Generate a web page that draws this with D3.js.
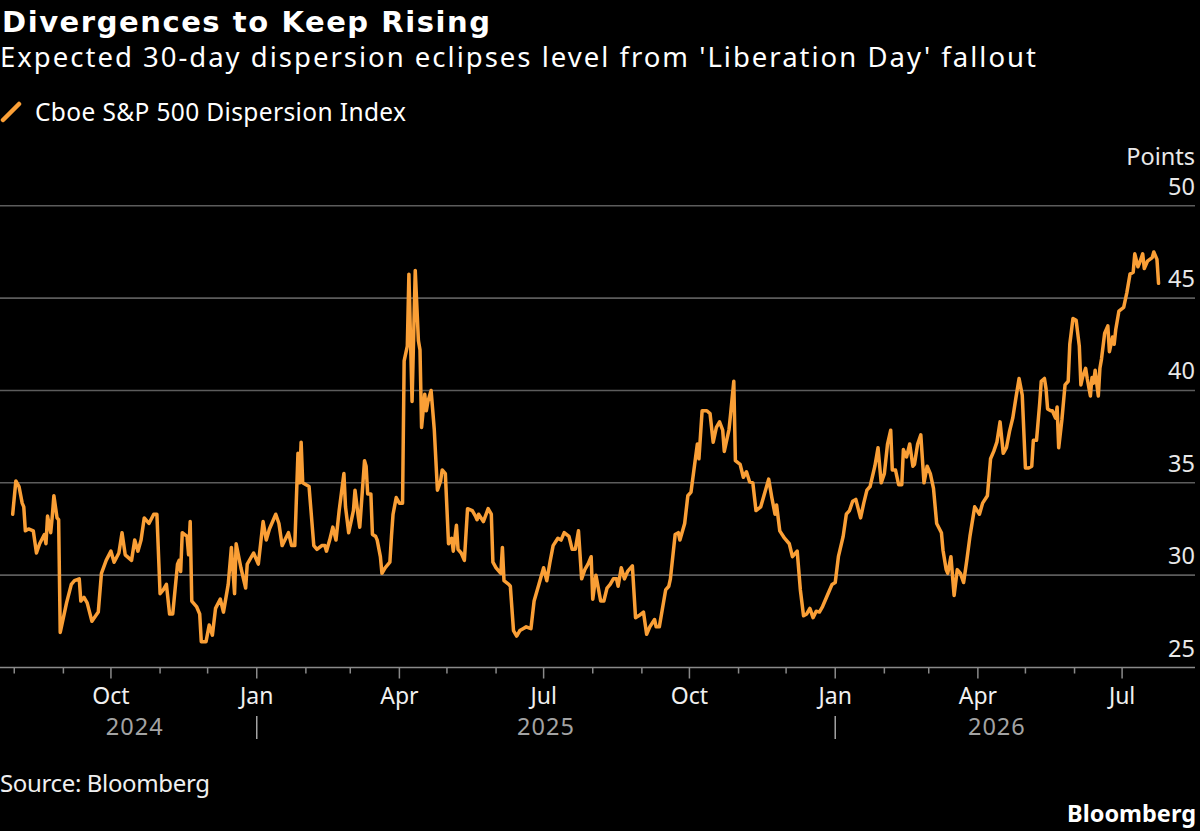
<!DOCTYPE html>
<html><head><meta charset="utf-8">
<script src="https://cdn.jsdelivr.net/npm/d3@7"></script>
<style>
body{margin:0;background:#000;}
svg{display:block;}
text{font-family:"Noto Sans","Open Sans",sans-serif;}
</style>
</head><body>
<svg id="chart" width="1200" height="831"></svg>
<script>
const title = "Divergences to Keep Rising";
const subtitle = "Expected 30-day dispersion eclipses level from 'Liberation Day' fallout";
const seriesName = "Cboe S&P 500 Dispersion Index";
const unitLabel = "Points";
const sourceText = "Source: Bloomberg";
const brand = "Bloomberg";
const yTickValues = [25, 30, 35, 40, 45, 50];
const xDomain = ["2024-07-23", "2026-08-16"];

const dispersion = [
["2024-07-31",33.3],["2024-08-02",35.1],["2024-08-04",34.8],["2024-08-06",33.9],["2024-08-07",33.7],
["2024-08-08",32.4],["2024-08-10",32.5],["2024-08-13",32.4],["2024-08-15",31.2],["2024-08-17",31.7],
["2024-08-20",32.2],["2024-08-21",31.7],["2024-08-22",33.2],["2024-08-24",32.3],["2024-08-25",33.2],
["2024-08-26",34.3],["2024-08-28",33.1],["2024-08-29",33.0],["2024-08-30",26.9],["2024-09-01",27.7],
["2024-09-03",28.5],["2024-09-06",29.5],["2024-09-08",29.7],["2024-09-11",29.8],["2024-09-12",28.6],
["2024-09-14",28.8],["2024-09-16",28.5],["2024-09-19",27.5],["2024-09-23",28.0],["2024-09-25",30.1],
["2024-09-28",30.8],["2024-10-01",31.3],["2024-10-03",30.7],["2024-10-06",31.2],["2024-10-08",32.3],
["2024-10-10",31.1],["2024-10-14",30.8],["2024-10-16",31.9],["2024-10-18",31.3],["2024-10-20",31.9],
["2024-10-22",33.1],["2024-10-25",32.8],["2024-10-28",33.3],["2024-10-30",33.3],["2024-11-01",29.0],
["2024-11-03",29.2],["2024-11-05",29.5],["2024-11-07",27.9],["2024-11-09",27.9],["2024-11-12",30.6],
["2024-11-13",30.8],["2024-11-14",30.2],["2024-11-15",32.3],["2024-11-18",32.1],["2024-11-19",31.1],
["2024-11-20",32.9],["2024-11-21",28.6],["2024-11-24",28.3],["2024-11-26",27.9],["2024-11-27",26.4],
["2024-11-30",26.4],["2024-12-02",27.3],["2024-12-04",26.75],["2024-12-06",28.2],["2024-12-09",28.7],
["2024-12-11",28.0],["2024-12-14",29.5],["2024-12-16",31.5],["2024-12-18",29.0],["2024-12-19",31.7],
["2024-12-22",30.4],["2024-12-25",29.3],["2024-12-26",30.6],["2024-12-30",31.2],["2025-01-02",30.6],
["2025-01-05",32.9],["2025-01-07",31.9],["2025-01-09",32.5],["2025-01-13",33.3],["2025-01-15",32.8],
["2025-01-17",31.6],["2025-01-21",32.3],["2025-01-23",31.6],["2025-01-25",31.6],["2025-01-27",36.6],
["2025-01-28",35.0],["2025-01-29",37.2],["2025-01-30",35.0],["2025-02-03",34.8],["2025-02-06",31.6],
["2025-02-08",31.4],["2025-02-11",31.6],["2025-02-13",31.6],["2025-02-14",31.3],["2025-02-16",31.9],
["2025-02-18",32.6],["2025-02-20",31.9],["2025-02-22",33.5],["2025-02-25",35.5],["2025-02-26",33.7],
["2025-02-28",32.3],["2025-03-03",33.5],["2025-03-04",34.6],["2025-03-06",33.2],["2025-03-07",32.6],
["2025-03-10",36.2],["2025-03-11",35.9],["2025-03-12",34.4],["2025-03-14",34.4],["2025-03-15",32.2],
["2025-03-17",32.1],["2025-03-18",31.9],["2025-03-20",31.0],["2025-03-21",30.1],["2025-03-23",30.4],
["2025-03-26",30.7],["2025-03-27",32.1],["2025-03-28",33.3],["2025-03-30",34.2],["2025-04-01",33.9],
["2025-04-03",33.9],["2025-04-04",41.6],["2025-04-06",42.4],["2025-04-07",46.3],["2025-04-09",39.4],
["2025-04-11",46.5],["2025-04-13",42.7],["2025-04-14",42.2],["2025-04-15",38.0],["2025-04-17",39.8],
["2025-04-18",38.9],["2025-04-19",39.4],["2025-04-21",40.0],["2025-04-23",37.9],["2025-04-25",34.6],
["2025-04-27",35.1],["2025-04-28",35.7],["2025-04-30",35.5],["2025-05-02",31.7],["2025-05-04",32.0],
["2025-05-05",31.3],["2025-05-07",32.7],["2025-05-08",31.4],["2025-05-10",31.2],["2025-05-12",30.8],
["2025-05-14",33.6],["2025-05-17",33.5],["2025-05-19",33.2],["2025-05-20",33.0],["2025-05-21",33.3],
["2025-05-24",32.9],["2025-05-27",33.6],["2025-05-29",33.3],["2025-05-30",30.7],["2025-06-01",30.4],
["2025-06-04",30.1],["2025-06-05",31.5],["2025-06-06",29.7],["2025-06-09",29.5],["2025-06-10",29.4],
["2025-06-12",27.0],["2025-06-14",26.7],["2025-06-16",27.0],["2025-06-18",27.1],["2025-06-20",27.2],
["2025-06-23",27.1],["2025-06-25",28.6],["2025-06-28",29.5],["2025-07-01",30.4],["2025-07-03",29.7],
["2025-07-05",30.7],["2025-07-07",31.6],["2025-07-10",32.0],["2025-07-12",31.9],["2025-07-14",32.3],
["2025-07-17",32.1],["2025-07-19",31.4],["2025-07-21",31.4],["2025-07-23",32.4],["2025-07-25",29.8],
["2025-07-27",30.3],["2025-07-29",30.6],["2025-07-31",31.0],["2025-08-01",28.7],["2025-08-03",30.0],
["2025-08-06",28.6],["2025-08-08",28.6],["2025-08-10",29.3],["2025-08-12",29.5],["2025-08-14",29.8],
["2025-08-16",29.8],["2025-08-17",29.4],["2025-08-19",30.4],["2025-08-21",29.8],["2025-08-23",30.2],
["2025-08-26",30.5],["2025-08-28",27.7],["2025-08-30",27.8],["2025-09-02",28.0],["2025-09-04",26.8],
["2025-09-06",27.2],["2025-09-09",27.6],["2025-09-10",27.2],["2025-09-12",27.2],["2025-09-16",29.2],
["2025-09-18",29.4],["2025-09-19",29.8],["2025-09-22",32.2],["2025-09-24",32.3],["2025-09-25",31.9],
["2025-09-28",32.8],["2025-09-30",34.3],["2025-10-02",34.5],["2025-10-06",37.1],["2025-10-07",36.3],
["2025-10-08",37.6],["2025-10-09",38.9],["2025-10-12",38.9],["2025-10-14",38.75],["2025-10-16",37.2],
["2025-10-18",38.0],["2025-10-20",38.3],["2025-10-22",37.85],["2025-10-23",36.7],["2025-10-26",37.9],
["2025-10-27",38.75],["2025-10-29",40.5],["2025-10-30",36.2],["2025-11-02",36.0],["2025-11-04",35.3],
["2025-11-06",35.6],["2025-11-08",35.05],["2025-11-10",35.0],["2025-11-12",33.5],["2025-11-15",33.7],
["2025-11-17",34.3],["2025-11-20",35.2],["2025-11-22",34.2],["2025-11-24",33.3],["2025-11-25",33.8],
["2025-11-27",32.4],["2025-11-30",32.0],["2025-12-03",31.7],["2025-12-05",31.0],["2025-12-08",31.3],
["2025-12-10",29.2],["2025-12-12",27.8],["2025-12-14",27.9],["2025-12-16",28.2],["2025-12-18",27.7],
["2025-12-20",28.05],["2025-12-22",28.0],["2025-12-24",28.3],["2025-12-28",29.1],["2025-12-30",29.5],
["2026-01-01",29.6],["2026-01-03",31.0],["2026-01-06",32.1],["2026-01-08",33.3],["2026-01-10",33.5],
["2026-01-12",34.0],["2026-01-14",34.1],["2026-01-17",33.1],["2026-01-19",33.9],["2026-01-21",34.6],
["2026-01-23",34.8],["2026-01-26",35.9],["2026-01-28",36.9],["2026-01-30",35.0],["2026-02-01",35.5],
["2026-02-03",37.1],["2026-02-05",37.85],["2026-02-06",35.7],["2026-02-08",35.7],["2026-02-10",34.9],
["2026-02-12",34.9],["2026-02-13",36.8],["2026-02-15",36.4],["2026-02-17",37.1],["2026-02-19",35.9],
["2026-02-20",36.0],["2026-02-22",37.1],["2026-02-24",37.6],["2026-02-26",35.0],["2026-02-28",35.9],
["2026-03-02",35.5],["2026-03-04",34.7],["2026-03-06",32.8],["2026-03-09",32.3],["2026-03-10",31.35],
["2026-03-12",30.3],["2026-03-13",30.1],["2026-03-15",31.0],["2026-03-17",28.9],["2026-03-19",30.3],
["2026-03-21",30.1],["2026-03-23",29.6],["2026-03-25",30.8],["2026-03-27",32.1],["2026-03-30",33.7],
["2026-04-02",33.3],["2026-04-04",33.9],["2026-04-07",34.3],["2026-04-09",36.3],["2026-04-11",36.7],
["2026-04-13",37.2],["2026-04-15",38.3],["2026-04-17",36.6],["2026-04-19",36.9],["2026-04-21",37.8],
["2026-04-23",38.5],["2026-04-25",39.6],["2026-04-27",40.65],["2026-04-29",39.75],["2026-05-01",35.8],
["2026-05-03",35.8],["2026-05-05",35.9],["2026-05-06",37.3],["2026-05-08",37.3],["2026-05-10",39.3],
["2026-05-11",40.5],["2026-05-13",40.65],["2026-05-14",40.1],["2026-05-15",39.0],["2026-05-17",38.9],
["2026-05-18",38.9],["2026-05-20",38.5],["2026-05-21",39.1],["2026-05-22",36.9],["2026-05-24",38.4],
["2026-05-26",40.3],["2026-05-28",40.5],["2026-05-29",42.5],["2026-05-31",43.9],["2026-06-02",43.8],
["2026-06-04",42.4],["2026-06-05",40.3],["2026-06-06",40.7],["2026-06-08",41.2],["2026-06-09",40.65],
["2026-06-11",39.7],["2026-06-12",40.7],["2026-06-13",40.4],["2026-06-14",41.1],["2026-06-16",39.7],
["2026-06-17",41.2],["2026-06-18",41.7],["2026-06-20",43.1],["2026-06-22",43.5],["2026-06-23",42.1],
["2026-06-25",42.9],["2026-06-26",42.5],["2026-06-27",43.3],["2026-06-29",44.3],["2026-07-02",44.5],
["2026-07-04",45.3],["2026-07-06",46.3],["2026-07-08",46.4],["2026-07-09",47.4],["2026-07-11",46.7],
["2026-07-12",46.9],["2026-07-14",47.4],["2026-07-15",46.6],["2026-07-17",47.0],["2026-07-20",47.2],
["2026-07-21",47.5],["2026-07-23",47.1],["2026-07-24",45.8]
];

const parse = d3.utcParse("%Y-%m-%d");
const data = dispersion.map(([d, v]) => ({date: parse(d), value: v}));

const ORANGE = "#fa9f36";
const svg = d3.select("#chart");
svg.append("rect").attr("width", 1200).attr("height", 831).attr("fill", "#000");

const x = d3.scaleUtc().domain(xDomain.map(parse)).range([0, 1195]);
const y = d3.scaleLinear().domain([25, 50]).range([667.5, 205.8]);

// Header
svg.append("text").attr("x", 2).attr("y", 32).attr("fill", "#fff")
  .style("font-family", "'DejaVu Sans', sans-serif")
  .attr("font-size", 29).attr("font-weight", 700)
  .attr("textLength", 488).attr("lengthAdjust", "spacing").text(title);
svg.append("text").attr("x", 0).attr("y", 67).attr("fill", "#fff")
  .attr("font-size", 27.5)
  .attr("textLength", 1036).attr("lengthAdjust", "spacing").text(subtitle);
svg.append("line").attr("x1", 3).attr("y1", 120).attr("x2", 19).attr("y2", 104)
  .attr("stroke", ORANGE).attr("stroke-width", 4.5).attr("stroke-linecap", "round");
svg.append("text").attr("x", 35).attr("y", 121).attr("fill", "#fff")
  .attr("font-size", 24.5)
  .attr("textLength", 371).attr("lengthAdjust", "spacing").text(seriesName);

// Gridlines & y labels
const grid = svg.append("g");
yTickValues.filter(v => v > 25).forEach(v => {
  grid.append("line").attr("x1", 0).attr("x2", 1195).attr("y1", y(v)).attr("y2", y(v))
    .attr("stroke", "#5c5c5c").attr("stroke-width", 1.6);
});
yTickValues.forEach(v => {
  svg.append("text").attr("x", 1195).attr("y", y(v) - 11).attr("text-anchor", "end")
    .attr("fill", "#e8e8e8").attr("font-size", 23.5).text(v);
});
svg.append("text").attr("x", 1195).attr("y", 165).attr("text-anchor", "end")
  .attr("fill", "#e8e8e8").attr("font-size", 23.5).text(unitLabel);

// X axis
const [dStart, dEnd] = d3.extent(data, d => d.date);
svg.append("line").attr("x1", 0).attr("x2", 1195).attr("y1", y(25)).attr("y2", y(25))
  .attr("stroke", "#8a8a8a").attr("stroke-width", 1.6);
const months = d3.utcMonth.range(d3.utcMonth.ceil(dStart), dEnd);
months.forEach(m => {
  const major = m.getUTCMonth() % 3 === 0;
  svg.append("line").attr("x1", x(m)).attr("x2", x(m))
    .attr("y1", y(25)).attr("y2", y(25) + (major ? 11 : 6))
    .attr("stroke", "#8a8a8a").attr("stroke-width", 1.5);
  if (major) {
    svg.append("text").attr("x", x(m)).attr("y", 704).attr("text-anchor", "middle")
      .attr("fill", "#f0f0f0").attr("font-size", 23).text(d3.utcFormat("%b")(m));
  }
});
const years = d3.utcYear.range(d3.utcYear.floor(dStart), dEnd);
years.forEach(yr => {
  const s = yr < dStart ? dStart : yr;
  const nextYr = d3.utcYear.offset(yr, 1);
  const e = nextYr > dEnd ? dEnd : nextYr;
  svg.append("text").attr("x", (x(s) + x(e)) / 2).attr("y", 735).attr("text-anchor", "middle")
    .attr("fill", "#a3a3a3").attr("font-size", 23.5)
    .attr("letter-spacing", 1).text(yr.getUTCFullYear());
  if (yr > dStart) {
    svg.append("line").attr("x1", x(yr)).attr("x2", x(yr)).attr("y1", 716).attr("y2", 739)
      .attr("stroke", "#a3a3a3").attr("stroke-width", 1.5);
  }
});

// Line
const line = d3.line().x(d => x(d.date)).y(d => y(d.value));
svg.append("path").datum(data).attr("d", line).attr("fill", "none")
  .attr("stroke", ORANGE).attr("stroke-width", 3.5)
  .attr("stroke-linejoin", "round").attr("stroke-linecap", "round");

// Footer
svg.append("text").attr("x", 0).attr("y", 792).attr("fill", "#f0f0f0")
  .attr("font-size", 24)
  .attr("textLength", 210).attr("lengthAdjust", "spacing").text(sourceText);
svg.append("text").attr("x", 1196).attr("y", 822).attr("text-anchor", "end").attr("fill", "#fff")
  .attr("font-size", 23.5).attr("font-weight", 700).text(brand);
</script>
</body></html>
